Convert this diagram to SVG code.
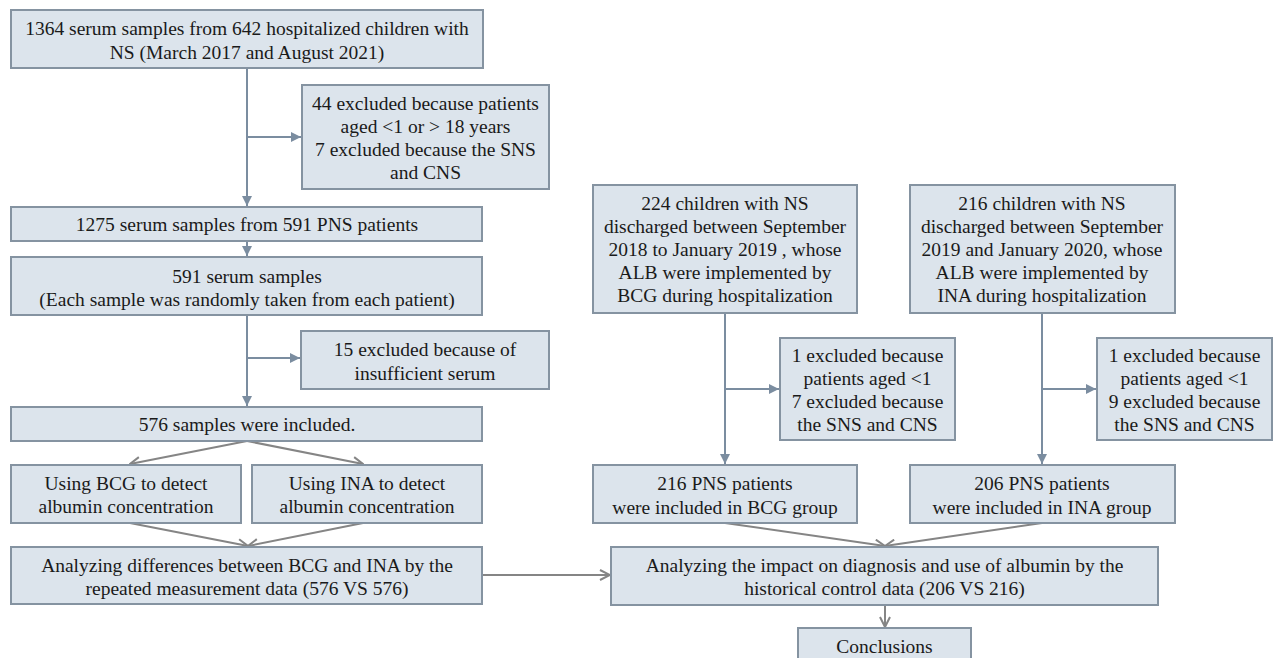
<svg xmlns="http://www.w3.org/2000/svg" width="1275" height="658" viewBox="0 0 1275 658">
<style>
  .box { fill: #dce4ec; stroke: #8593a1; stroke-width: 2; }
  .t { font-family: "Liberation Serif", "Times New Roman", serif; font-size: 19.5px; fill: #1a1a1a; text-anchor: middle; dominant-baseline: central; }
  .v { stroke: #7b8da0; stroke-width: 2; fill: none; }
  .d { stroke: #858585; stroke-width: 2; fill: none; }
</style>
<defs>
  <marker id="tri" viewBox="0 0 10 10" refX="10" refY="5" markerWidth="5" markerHeight="5" markerUnits="strokeWidth" orient="auto">
    <path d="M0,0 L10,5 L0,10 z" fill="#7b8da0"/>
  </marker>
  <marker id="vee" viewBox="0 0 12 12" refX="11" refY="6" markerWidth="6" markerHeight="6" markerUnits="strokeWidth" orient="auto">
    <path d="M1,1 L11,6 L1,11" fill="none" stroke="#858585" stroke-width="2"/>
  </marker>
</defs>
<rect width="1275" height="658" fill="#ffffff"/>

<g id="connectors">
  <line class="v" x1="247" y1="68" x2="247" y2="206" marker-end="url(#tri)"/>
  <line class="v" x1="247" y1="137" x2="301" y2="137" marker-end="url(#tri)"/>
  <line class="v" x1="247" y1="241" x2="247" y2="256" marker-end="url(#tri)"/>
  <line class="v" x1="247" y1="315" x2="247" y2="406" marker-end="url(#tri)"/>
  <line class="v" x1="247" y1="358" x2="300" y2="358" marker-end="url(#tri)"/>
  <line class="d" x1="247" y1="441" x2="130" y2="464" marker-end="url(#vee)"/>
  <line class="d" x1="247" y1="441" x2="363" y2="464" marker-end="url(#vee)"/>
  <line class="d" x1="130" y1="523" x2="248" y2="546" marker-end="url(#vee)"/>
  <line class="d" x1="363" y1="523" x2="248" y2="546" marker-end="url(#vee)"/>
  <line class="d" x1="482" y1="575" x2="610" y2="575" marker-end="url(#vee)"/>
  <line class="v" x1="725" y1="313" x2="725" y2="464" marker-end="url(#tri)"/>
  <line class="v" x1="725" y1="389" x2="779" y2="389" marker-end="url(#tri)"/>
  <line class="v" x1="1042" y1="313" x2="1042" y2="464" marker-end="url(#tri)"/>
  <line class="v" x1="1042" y1="389" x2="1096" y2="389" marker-end="url(#tri)"/>
  <line class="d" x1="725" y1="523" x2="885" y2="546" marker-end="url(#vee)"/>
  <line class="d" x1="1042" y1="523" x2="885" y2="546" marker-end="url(#vee)"/>
  <line class="d" x1="885" y1="605" x2="885" y2="627" marker-end="url(#vee)"/>
</g>

<g id="n1">
  <rect class="box" x="11" y="10" width="472" height="58"/>
  <text class="t" x="247" y="28">1364 serum samples from 642 hospitalized children with</text>
  <text class="t" x="247" y="52">NS (March 2017 and August 2021)</text>
</g>
<g id="ex1">
  <rect class="box" x="302" y="85" width="247" height="104"/>
  <text class="t" x="425.5" y="103">44 excluded because patients</text>
  <text class="t" x="425.5" y="126">aged &lt;1 or &gt; 18 years</text>
  <text class="t" x="425.5" y="149">7 excluded because the SNS</text>
  <text class="t" x="425.5" y="172">and CNS</text>
</g>
<g id="n2">
  <rect class="box" x="11" y="207" width="471" height="34"/>
  <text class="t" x="247" y="224">1275 serum samples from 591 PNS patients</text>
</g>
<g id="n3">
  <rect class="box" x="11" y="257" width="471" height="58"/>
  <text class="t" x="247" y="276">591 serum samples</text>
  <text class="t" x="247" y="299">(Each sample was randomly taken from each patient)</text>
</g>
<g id="ex2">
  <rect class="box" x="301" y="331" width="248" height="58"/>
  <text class="t" x="425" y="349">15 excluded because of</text>
  <text class="t" x="425" y="373">insufficient serum</text>
</g>
<g id="n4">
  <rect class="box" x="11" y="407" width="471" height="34"/>
  <text class="t" x="247" y="424">576 samples were included.</text>
</g>
<g id="bcg">
  <rect class="box" x="11" y="465" width="230" height="58"/>
  <text class="t" x="126" y="483">Using BCG to detect</text>
  <text class="t" x="126" y="506">albumin concentration</text>
</g>
<g id="ina">
  <rect class="box" x="252" y="465" width="230" height="58"/>
  <text class="t" x="367" y="483">Using INA to detect</text>
  <text class="t" x="367" y="506">albumin concentration</text>
</g>
<g id="an1">
  <rect class="box" x="11" y="547" width="471" height="57"/>
  <text class="t" x="247" y="565">Analyzing differences between BCG and INA by the</text>
  <text class="t" x="247" y="588">repeated measurement data (576 VS 576)</text>
</g>
<g id="src1">
  <rect class="box" x="593" y="185" width="264" height="128"/>
  <text class="t" x="725" y="203">224 children with NS</text>
  <text class="t" x="725" y="226">discharged between September</text>
  <text class="t" x="725" y="249">2018 to January 2019 , whose</text>
  <text class="t" x="725" y="272">ALB were implemented by</text>
  <text class="t" x="725" y="295">BCG during hospitalization</text>
</g>
<g id="src2">
  <rect class="box" x="910" y="185" width="265" height="128"/>
  <text class="t" x="1042" y="203">216 children with NS</text>
  <text class="t" x="1042" y="226">discharged between September</text>
  <text class="t" x="1042" y="249">2019 and January 2020, whose</text>
  <text class="t" x="1042" y="272">ALB were implemented by</text>
  <text class="t" x="1042" y="295">INA during hospitalization</text>
</g>
<g id="ex3">
  <rect class="box" x="780" y="338" width="175" height="102"/>
  <text class="t" x="867.5" y="355">1 excluded because</text>
  <text class="t" x="867.5" y="378">patients aged &lt;1</text>
  <text class="t" x="867.5" y="401">7 excluded because</text>
  <text class="t" x="867.5" y="424">the SNS and CNS</text>
</g>
<g id="ex4">
  <rect class="box" x="1097" y="338" width="175" height="102"/>
  <text class="t" x="1184.5" y="355">1 excluded because</text>
  <text class="t" x="1184.5" y="378">patients aged &lt;1</text>
  <text class="t" x="1184.5" y="401">9 excluded because</text>
  <text class="t" x="1184.5" y="424">the SNS and CNS</text>
</g>
<g id="p216">
  <rect class="box" x="593" y="465" width="264" height="58"/>
  <text class="t" x="725" y="483">216 PNS patients</text>
  <text class="t" x="725" y="507">were included in BCG group</text>
</g>
<g id="p206">
  <rect class="box" x="910" y="465" width="265" height="58"/>
  <text class="t" x="1042" y="483">206 PNS patients</text>
  <text class="t" x="1042" y="507">were included in INA group</text>
</g>
<g id="an2">
  <rect class="box" x="611" y="547" width="547" height="58"/>
  <text class="t" x="884.5" y="565">Analyzing the impact on diagnosis and use of albumin by the</text>
  <text class="t" x="884.5" y="588">historical control data (206 VS 216)</text>
</g>
<g id="concl">
  <rect class="box" x="798" y="628" width="173" height="45"/>
  <text class="t" x="884.5" y="646">Conclusions</text>
</g>
</svg>
